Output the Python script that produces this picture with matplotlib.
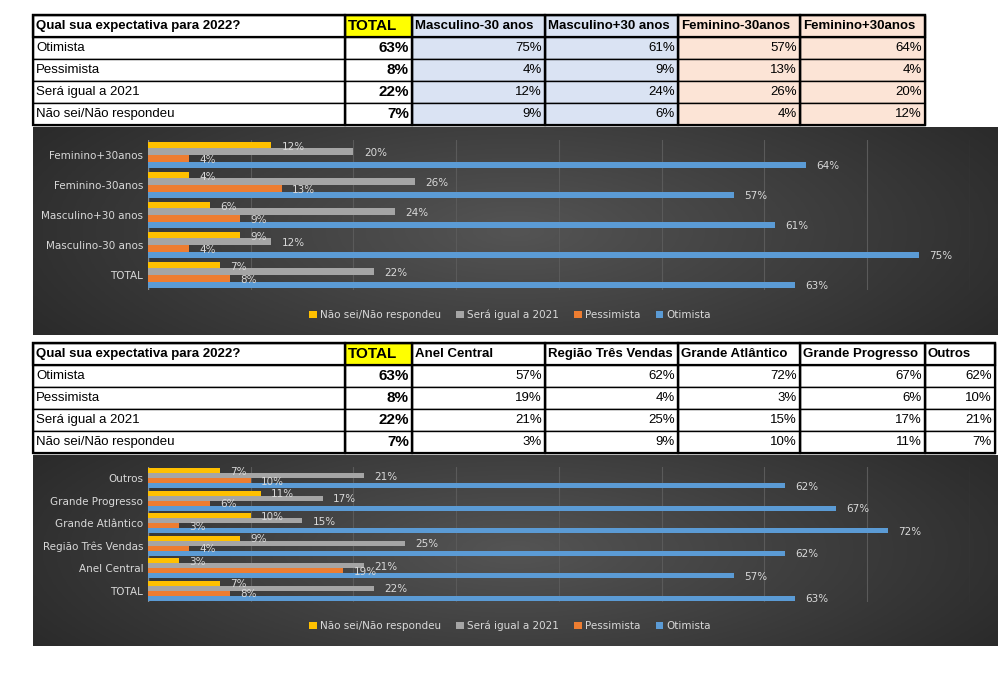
import matplotlib
matplotlib.use("Agg")
import matplotlib.pyplot as plt
import numpy as np
from matplotlib.patches import Rectangle

answers = ["Otimista", "Pessimista", "Será igual a 2021", "Não sei/Não respondeu"]
total = [63, 8, 22, 7]
groups1 = ["Masculino-30 anos", "Masculino+30 anos", "Feminino-30anos", "Feminino+30anos"]
vals1 = {"Masculino-30 anos": [75, 4, 12, 9], "Masculino+30 anos": [61, 9, 24, 6],
         "Feminino-30anos": [57, 13, 26, 4], "Feminino+30anos": [64, 4, 20, 12]}
groups2 = ["Anel Central", "Região Três Vendas", "Grande Atlântico", "Grande Progresso", "Outros"]
vals2 = {"Anel Central": [57, 19, 21, 3], "Região Três Vendas": [62, 4, 25, 9],
         "Grande Atlântico": [72, 3, 15, 10], "Grande Progresso": [67, 6, 17, 11],
         "Outros": [62, 10, 21, 7]}
question = "Qual sua expectativa para 2022?"

W, H = 1003, 697
fig = plt.figure(figsize=(W/100, H/100), dpi=100)
bg = fig.add_axes([0, 0, 1, 1])
bg.set_xlim(0, W); bg.set_ylim(H, 0); bg.axis("off")

def table(y0, cols, groups, vals, fills):
    rh = 22
    edges = cols
    for r in range(5):
        y = y0 + r*rh
        for c in range(len(edges)-1):
            x0, x1 = edges[c], edges[c+1]
            fc = "white"
            if r == 0 and c == 1:
                fc = "#FFFF00"
            elif c >= 2 and fills is not None:
                fc = fills[c-2]
            bg.add_patch(Rectangle((x0, y), x1-x0, rh, fc=fc, ec="black", lw=1))
    for c in range(len(edges)-1):
        bg.add_patch(Rectangle((edges[c], y0), edges[c+1]-edges[c], rh*5, fc="none", ec="black", lw=1.6))
    bg.add_patch(Rectangle((edges[0], y0), edges[-1]-edges[0], rh, fc="none", ec="black", lw=1.6))
    cy = y0 + rh/2
    bg.text(edges[0]+3, cy, question, fontsize=9.5, fontweight="bold", va="center", family="Liberation Sans")
    bg.text(edges[1]+3, cy, "TOTAL", fontsize=11, fontweight="bold", va="center", family="Liberation Sans")
    for i, g in enumerate(groups):
        bg.text(edges[i+2]+3, cy, g, fontsize=9.5, fontweight="bold", va="center", family="Liberation Sans")
    for r, a in enumerate(answers):
        yy = y0 + (r+1)*rh + rh/2
        bg.text(edges[0]+3, yy, a, fontsize=9.5, va="center", family="Liberation Sans")
        bg.text(edges[2]-3, yy, f"{total[r]}%", fontsize=11, fontweight="bold", va="center", ha="right", family="Liberation Sans")
        for i, g in enumerate(groups):
            bg.text(edges[i+3]-3, yy, f"{vals[g][r]}%", fontsize=9.5, va="center", ha="right", family="Liberation Sans")

blue_fill = "#DAE3F3"; peach = "#FCE4D6"
table(15, [33, 345, 412, 545, 678, 800, 925], groups1, vals1, [blue_fill, blue_fill, peach, peach])
table(343, [33, 345, 412, 545, 678, 800, 925, 995], groups2, vals2, None)

def dark_bg(x0, y0, x1, y1):
    gx = np.linspace(0, 1, 200); gy = np.linspace(0, 1, 100)
    X, Y = np.meshgrid(gx, gy)
    d = np.sqrt((X-0.5)**2 + ((Y-0.5)*0.6)**2)
    img = 0.33 - 0.28*d
    bg.imshow(np.stack([img]*3, -1), extent=(x0, x1, y1, y0), aspect="auto", zorder=0)
dark_bg(33, 127, 998, 335)
dark_bg(33, 455, 998, 646)

colors = ["#FFC000", "#A5A5A5", "#ED7D31", "#5B9BD5"]
series_idx = [3, 2, 1, 0]
legend_labels = ["Não sei/Não respondeu", "Será igual a 2021", "Pessimista", "Otimista"]

def chart(top, bottom, cats, data, legend_y):
    ax = fig.add_axes([148/W, 1-bottom/H, (970-148)/W, (bottom-top)/H])
    ax.set_facecolor("none")
    n = len(cats)
    h = 0.22
    ypos = np.arange(n)
    for k, si in enumerate(series_idx):
        vals = [data[c][si] for c in cats]
        off = (1.5 - k) * h
        ax.barh(ypos + off, vals, height=h, color=colors[k], zorder=3, label=legend_labels[k])
        for y, v in zip(ypos, vals):
            ax.text(v + 1.0, y + off - 0.05, f"{v}%", color="#D9D9D9", fontsize=7.5, va="center", zorder=4)
    ax.set_xlim(0, 80); ax.set_ylim(-0.5, n - 0.5)
    ax.set_yticks(ypos); ax.set_yticklabels(cats, color="#D9D9D9", fontsize=7.5)
    ax.set_xticks(np.arange(0, 81, 10)); ax.set_xticklabels([])
    ax.tick_params(length=0)
    ax.grid(axis="x", color="#5a5a5a", lw=0.8, zorder=0)
    for s in ax.spines.values(): s.set_visible(False)
    ax.axvline(0, color="#8a8a8a", lw=1, zorder=2)
    h_, l_ = ax.get_legend_handles_labels()
    fig.legend(h_, l_, loc="center", bbox_to_anchor=(510/W, 1-legend_y/H), ncol=4, frameon=False,
               fontsize=7.5, labelcolor="#D9D9D9", handlelength=0.7, handleheight=0.7, columnspacing=1.5, handletextpad=0.3)

chart(140, 290, ["TOTAL"] + groups1, {"TOTAL": total, **vals1}, 315)
chart(467, 602, ["TOTAL"] + groups2, {"TOTAL": total, **vals2}, 626)

fig.savefig("out.png", dpi=100)
